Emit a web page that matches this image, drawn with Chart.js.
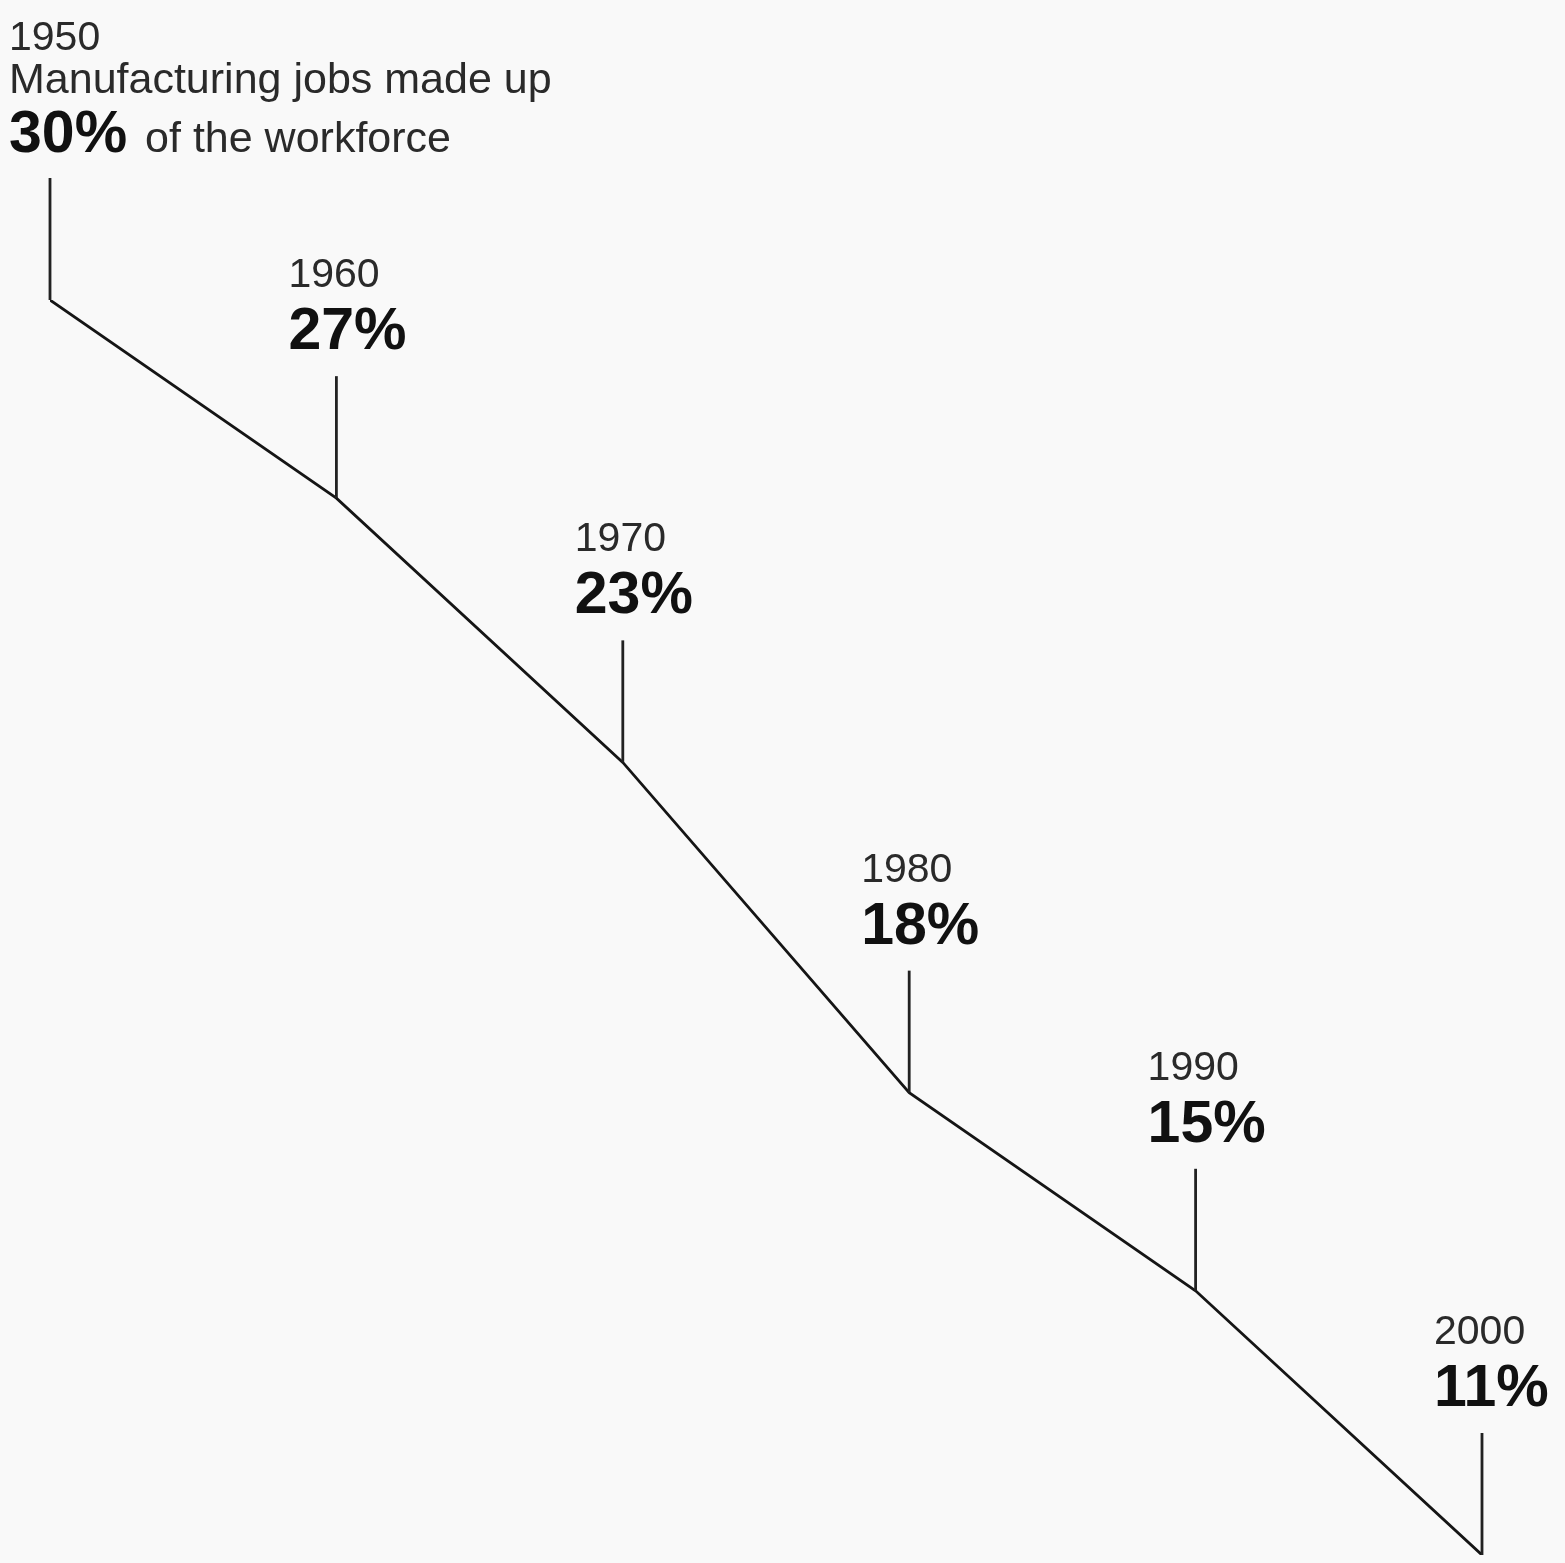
<!DOCTYPE html>
<html>
<head>
<meta charset="utf-8">
<script src="https://cdn.jsdelivr.net/npm/chart.js@4.4.1/dist/chart.umd.min.js"></script>
<style>
  html, body { margin: 0; padding: 0; background: #f9f9f9; }
  #wrap { width: 1565px; height: 1563px; }
</style>
</head>
<body>
<div id="wrap"><canvas id="jobsChart" width="1565" height="1563"></canvas></div>
<script>
const years = [1950, 1960, 1970, 1980, 1990, 2000];
const shares = [30, 27, 23, 18, 15, 11];
const introLines = ['Manufacturing jobs made up', 'of the workforce'];

const FONT = '"Liberation Sans", Arial, Helvetica, sans-serif';

// leader lines + text above each point
const calloutPlugin = {
  id: 'callouts',
  afterDatasetsDraw(chart) {
    const ctx = chart.ctx;
    const xs = chart.scales.x, ys = chart.scales.y;
    ctx.save();
    ctx.textAlign = 'left';
    ctx.textBaseline = 'alphabetic';
    years.forEach((yr, i) => {
      const px = xs.getPixelForValue(yr);
      const py = ys.getPixelForValue(shares[i]);

      ctx.strokeStyle = '#222';
      ctx.lineWidth = 2.8;
      ctx.beginPath();
      ctx.moveTo(px, py - 122);
      ctx.lineTo(px, py);
      ctx.stroke();

      if (i === 0) {
        const tx = px - 41;
        ctx.fillStyle = '#2a2a2a';
        ctx.font = '41px ' + FONT;
        ctx.fillText(String(yr), tx, py - 250);
        ctx.font = '43px ' + FONT;
        ctx.fillText(introLines[0], tx, py - 207);
        ctx.fillStyle = '#111';
        ctx.font = 'bold 59px ' + FONT;
        const pct = shares[i] + '%';
        ctx.fillText(pct, tx, py - 148);
        const w = ctx.measureText(pct).width;
        ctx.fillStyle = '#2a2a2a';
        ctx.font = '43px ' + FONT;
        ctx.fillText(introLines[1], tx + w + 18, py - 148);
      } else {
        const tx = px - 48;
        ctx.fillStyle = '#2a2a2a';
        ctx.font = '41px ' + FONT;
        ctx.fillText(String(yr), tx, py - 211);
        ctx.fillStyle = '#111';
        ctx.font = 'bold 59px ' + FONT;
        ctx.fillText(shares[i] + '%', tx, py - 149);
      }
    });
    ctx.restore();
  }
};

new Chart(document.getElementById('jobsChart'), {
  type: 'line',
  data: {
    datasets: [{
      data: years.map((y, i) => ({ x: y, y: shares[i] })),
      borderColor: '#151515',
      borderWidth: 2.8,
      pointRadius: 0,
      tension: 0,
      fill: false
    }]
  },
  options: {
    responsive: false,
    animation: false,
    layout: { padding: { left: 50, right: 83, top: 300, bottom: 8 } },
    plugins: { legend: { display: false }, tooltip: { enabled: false } },
    scales: {
      x: { type: 'linear', min: 1950, max: 2000, display: false },
      y: { type: 'linear', min: 11, max: 30, display: false }
    }
  },
  plugins: [calloutPlugin]
});
</script>
</body>
</html>
